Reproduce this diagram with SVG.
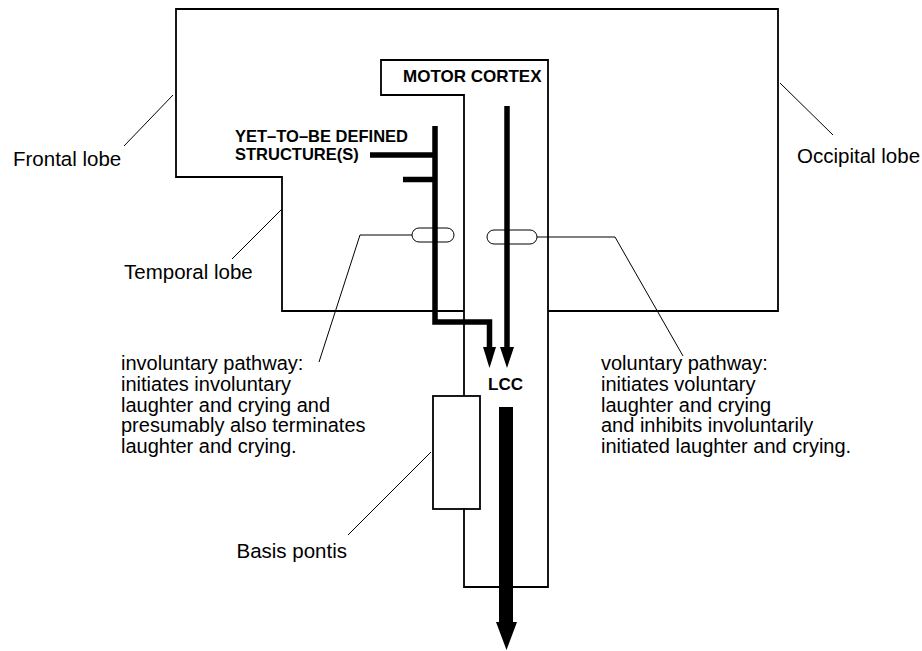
<svg xmlns="http://www.w3.org/2000/svg" width="922" height="651" viewBox="0 0 922 651">
<style>
.frame{fill:none;stroke:#000;stroke-width:1.8}
.leader{fill:none;stroke:#000;stroke-width:1}
.thick{fill:none;stroke:#000;stroke-width:5.5}
.lbl{font-family:"Liberation Sans",Arial,sans-serif;font-size:20.5px;fill:#000}
.blk{font-family:"Liberation Sans",Arial,sans-serif;font-size:20px;fill:#000}
.bold{font-family:"Liberation Sans",Arial,sans-serif;font-weight:bold;fill:#000}
</style>
<rect width="922" height="651" fill="#fff"/>
<g id="brain">
<path class="frame" d="M464,311 H282 V177 H176 V9 H778 V311 H548"/>
</g>
<g id="motor-cortex">
<path class="frame" d="M464,396 V95 H381 V60 H548 V587 H464 V508"/>
<text class="bold" x="403" y="82" font-size="17">MOTOR CORTEX</text>
</g>
<g id="basis-pontis">
<rect class="frame" x="433" y="396" width="47" height="113"/>
<text class="lbl" x="347" y="558" text-anchor="end">Basis pontis</text>
</g>
<g id="yet-to-be">
<text class="bold" x="235" y="142" font-size="16.5">YET–TO–BE DEFINED</text>
<text class="bold" x="235" y="160" font-size="16.5">STRUCTURE(S)</text>
</g>
<g id="lcc">
<text class="bold" x="505.5" y="390" font-size="17" text-anchor="middle">LCC</text>
</g>
<g id="labels">
<text class="lbl" x="13" y="166">Frontal lobe</text>
<text class="lbl" x="124" y="279">Temporal lobe</text>
<text class="lbl" x="797" y="163">Occipital lobe</text>
<text class="blk" x="121" y="370">involuntary pathway:</text>
<text class="blk" x="121" y="390.75">initiates involuntary</text>
<text class="blk" x="121" y="411.5">laughter and crying and</text>
<text class="blk" x="121" y="432.25">presumably also terminates</text>
<text class="blk" x="121" y="453">laughter and crying.</text>
<text class="blk" x="601" y="370">voluntary pathway:</text>
<text class="blk" x="601" y="390.75">initiates voluntary</text>
<text class="blk" x="601" y="411.5">laughter and crying</text>
<text class="blk" x="601" y="432.25">and inhibits involuntarily</text>
<text class="blk" x="601" y="453">initiated laughter and crying.</text>
</g>
<g id="connectors">
<line class="leader" x1="173" y1="95" x2="124" y2="146"/>
<line class="leader" x1="282" y1="209" x2="232" y2="259"/>
<line class="leader" x1="780" y1="83" x2="833" y2="135"/>
<line class="leader" x1="431" y1="452" x2="348" y2="535"/>
<path class="leader" d="M412,235 H360 L319,362"/>
<path class="leader" d="M537,237 H615 L683,356"/>
<line class="thick" x1="370" y1="155" x2="435" y2="155" stroke-width="6"/>
<line class="thick" x1="403" y1="179.5" x2="435" y2="179.5" stroke-width="7"/>
<path class="thick" d="M435,126 V322 H489.5 V348"/>
<polygon points="483,347 496,347 489.5,368" fill="#000"/>
<line class="thick" x1="507" y1="106" x2="507" y2="348"/>
<polygon points="500,347 514,347 507,368" fill="#000"/>
<rect x="499" y="407" width="14" height="216" fill="#000"/>
<polygon points="496,622 517,622 506.5,650" fill="#000"/>
<rect class="leader" x="412" y="228" width="42" height="14" rx="7" stroke-width="1.3"/>
<rect class="leader" x="487" y="230" width="50" height="14" rx="7" stroke-width="1.3"/>
</g>
</svg>
